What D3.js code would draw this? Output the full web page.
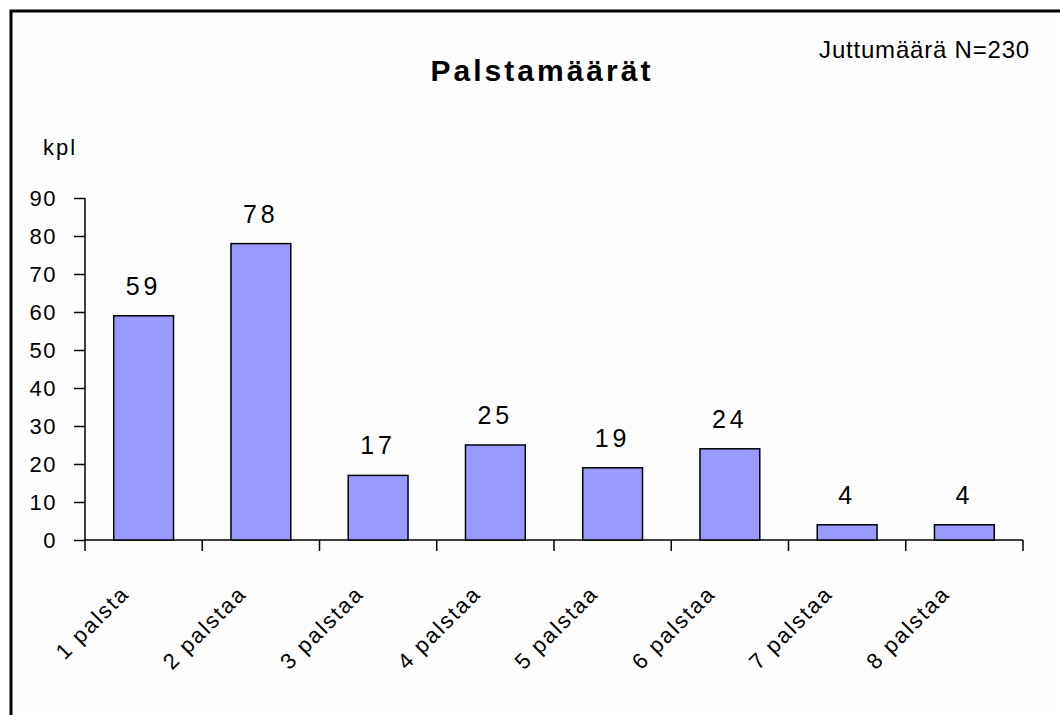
<!doctype html>
<html lang="fi">
<head>
    <meta charset="utf-8">
    <title>Palstamäärät</title>
    <script src="https://cdnjs.cloudflare.com/ajax/libs/d3/7.8.5/d3.min.js"></script>
    <style>
        body { margin: 0; background: #fff; }
        svg text { font-family: Arial, "Liberation Sans", sans-serif; fill: #000; }
        .bar rect { fill: #9999ff; stroke: #000; stroke-width: 1.5; }
        .axis path, .axis line { stroke: #000; stroke-width: 1.5; }
    </style>
</head>
<body>
<div id="chart"></div>
<script>
// chart data
var categories = ["1 palsta", "2 palstaa", "3 palstaa", "4 palstaa", "5 palstaa", "6 palstaa", "7 palstaa", "8 palstaa"];
var counts = [59, 78, 17, 25, 19, 24, 4, 4];
var yTicks = [0, 10, 20, 30, 40, 50, 60, 70, 80, 90];
var titleText = "Palstamäärät";
var noteText = "Juttumäärä N=230";
var yLabel = "kpl";

var width = 1060, height = 715;
var plot = { left: 85, right: 1023, top: 198, bottom: 540 };

var svg = d3.select("#chart")
    .append("svg")
      .attr("width", width)
      .attr("height", height);

// outer frame (right and bottom edges fall outside the picture)
svg.append("rect")
    .attr("x", 11)
    .attr("y", 11)
    .attr("width", 1100)
    .attr("height", 800)
    .attr("fill", "#fdfdfd")
    .attr("stroke", "#000")
    .attr("stroke-width", 3);

var x = d3.scaleBand()
    .domain(categories)
    .range([plot.left, plot.right])
    .padding(0);

var y = d3.scaleLinear()
    .domain([0, 90])
    .range([plot.bottom, plot.top]);

// y axis
var yAxis = d3.axisLeft(y)
    .tickValues(yTicks)
    .tickSize(11)
    .tickSizeOuter(0)
    .tickPadding(17);

svg.append("g")
    .attr("class", "y axis")
    .attr("transform", "translate(" + plot.left + ",0)")
    .call(yAxis)
    .call(function(g) {
        g.selectAll("text")
            .style("font-size", "22px")
            .attr("dy", "0.36em")
            .attr("letter-spacing", "1.5");
        g.select(".domain").attr("d", "M0," + y(90) + "V" + y(0));
    });

// x axis line and ticks at category boundaries
var xAxisG = svg.append("g").attr("class", "x axis");
xAxisG.append("path")
    .attr("d", "M" + plot.left + "," + y(0) + "H" + plot.right);

var boundaries = categories.map(function(c) { return x(c); }).concat([plot.right]);
xAxisG.selectAll("line.tick")
    .data(boundaries)
    .enter()
    .append("line")
      .attr("class", "tick")
      .attr("x1", function(d) { return d; })
      .attr("x2", function(d) { return d; })
      .attr("y1", y(0))
      .attr("y2", y(0) + 11);

// rotated category labels
xAxisG.selectAll("text")
    .data(categories)
    .enter()
    .append("text")
      .attr("text-anchor", "end")
      .attr("letter-spacing", "2")
      .attr("transform", function(d) {
          var cx = x(d) + x.bandwidth() / 2 - 13;
          return "translate(" + cx + "," + (y(0) + 55) + ") rotate(-45)";
      })
      .style("font-size", "22px")
      .text(function(d) { return d; });

// bars
var bars = svg.selectAll("g.bar")
    .data(counts)
    .enter()
    .append("g")
      .attr("class", "bar");

bars.append("rect")
    .attr("x", function(d, i) { return x(categories[i]) + x.bandwidth() * 0.245; })
    .attr("y", function(d) { return y(d); })
    .attr("width", x.bandwidth() * 0.51)
    .attr("height", function(d) { return y(0) - y(d); });

bars.append("text")
    .attr("x", function(d, i) { return x(categories[i]) + x.bandwidth() / 2; })
    .attr("y", function(d) { return y(d) - 21; })
    .attr("text-anchor", "middle")
    .attr("letter-spacing", "4")
    .style("font-size", "25px")
    .text(function(d) { return d; });

// title and notes
svg.append("text")
    .attr("x", 542)
    .attr("y", 81)
    .attr("text-anchor", "middle")
    .attr("letter-spacing", "3")
    .style("font-size", "30px")
    .style("font-weight", "bold")
    .text(titleText);

svg.append("text")
    .attr("x", 1030)
    .attr("y", 58)
    .attr("text-anchor", "end")
    .attr("letter-spacing", "0.8")
    .style("font-size", "24px")
    .text(noteText);

svg.append("text")
    .attr("x", 43)
    .attr("y", 155)
    .attr("letter-spacing", "2")
    .style("font-size", "22px")
    .text(yLabel);
</script>
</body>
</html>
